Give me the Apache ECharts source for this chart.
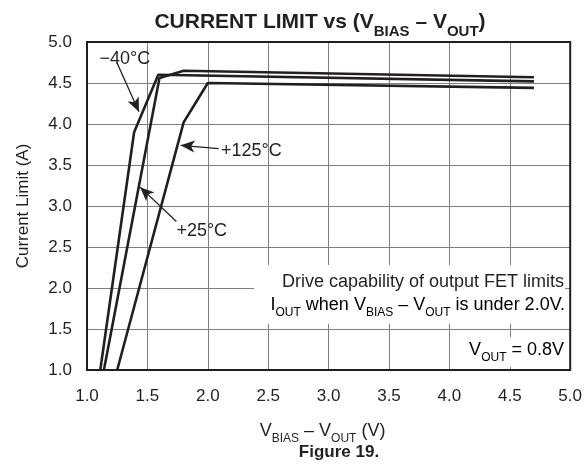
<!DOCTYPE html>
<html>
<head>
<meta charset="utf-8">
<script src="https://cdn.jsdelivr.net/npm/echarts@6/dist/echarts.min.js"></script>
<style>
html,body{margin:0;padding:0;background:#fff;}
#c{width:585px;height:466px;}
</style>
</head>
<body>
<div id="c"></div>
<script>
// ---- data ----
const xTicks = [1.0, 1.5, 2.0, 2.5, 3.0, 3.5, 4.0, 4.5, 5.0];
const yTicks = [1.0, 1.5, 2.0, 2.5, 3.0, 3.5, 4.0, 4.5, 5.0];
const seriesNames = ['−40°C', '+25°C', '+125°C'];
const vM40  = [1.11, 1.39, 1.59, 4.70];
const iM40  = [1.00, 3.90, 4.60, 4.52];
const v25   = [1.14, 1.60, 1.80, 4.70];
const i25   = [1.00, 4.56, 4.65, 4.57];
const v125  = [1.25, 1.80, 2.00, 4.70];
const i125  = [1.00, 4.02, 4.50, 4.44];

const FONT = "'Liberation Sans', Arial, Helvetica, sans-serif";
const INK = '#231f20';
const pairs = (xs, ys) => xs.map((x, i) => [x, ys[i]]);

const chart = echarts.init(document.getElementById('c'));
const sub = { fontSize: 12, fontFamily: FONT, color: INK, verticalAlign: 'bottom', padding: [0,0,-5,0] };
const norm = { fontSize: 18, fontFamily: FONT, color: INK };

function arrow(from, to) {
  return [{ coord: from, symbol: 'none' }, { coord: to, symbol: 'arrow', symbolSize: [9, 14] }];
}
function tag(name, at) {
  return { symbol: 'circle', symbolSize: 0,
    label: { show: true, position: 'inside', formatter: name, fontSize: 18, fontFamily: FONT, color: INK },
    data: [{ coord: at }] };
}
const arrowStyle = { silent: true, animation: false, lineStyle: { color: INK, width: 1.3, type: 'solid' }, label: { show: false } };

const lineStyle = { color: INK, width: 2.6 };
const option = {
  animation: false,
  backgroundColor: '#fff',
  title: [
    {
      text: '{t|CURRENT LIMIT vs (V}{s|BIAS}{t| – V}{s|OUT}{t|)}',
      left: 315, top: 7, textAlign: 'center',
      textStyle: {
        rich: {
          t: { fontSize: 21, fontWeight: 'bold', fontFamily: FONT, color: INK },
          s: { fontSize: 15, fontWeight: 'bold', fontFamily: FONT, color: INK, verticalAlign: 'bottom', padding: [0,0,-6,0] }
        }
      }
    },
    {
      text: 'Figure 19.',
      left: 334, top: 439, textAlign: 'center',
      textStyle: { fontSize: 17, fontWeight: 'bold', fontFamily: FONT, color: INK }
    }
  ],
  grid: { left: 87, right: 12, top: 42, bottom: 96, show: true, borderColor: INK, borderWidth: 2, z: 3 },
  xAxis: {
    type: 'value', min: xTicks[0], max: xTicks[xTicks.length - 1], interval: 0.5,
    axisLine: { show: false }, axisTick: { show: false },
    splitLine: { show: true, lineStyle: { color: '#7f7f7f', width: 1 } },
    axisLabel: { margin: 18, fontSize: 17, fontFamily: FONT, color: INK, formatter: v => v.toFixed(1) },
    name: '{n|V}{s|BIAS}{n| – V}{s|OUT}{n| (V)}', nameLocation: 'middle', nameGap: 52,
    nameTextStyle: { padding: [0, 12, 0, 0], rich: { n: norm, s: sub } }
  },
  yAxis: {
    type: 'value', min: yTicks[0], max: yTicks[yTicks.length - 1], interval: 0.5,
    axisLine: { show: false }, axisTick: { show: false },
    splitLine: { show: true, lineStyle: { color: '#7f7f7f', width: 1 } },
    axisLabel: { margin: 15, fontSize: 17, fontFamily: FONT, color: INK, formatter: v => v.toFixed(1) },
    name: 'Current Limit (A)', nameLocation: 'middle', nameGap: 55,
    nameTextStyle: { fontSize: 17, fontFamily: FONT, color: INK }
  },
  graphic: [
    { type: 'rect', shape: { x: 254, y: 265, width: 311, height: 59 }, style: { fill: '#fff' }, z: 2 },
    { type: 'rect', shape: { x: 456, y: 337, width: 110, height: 30 }, style: { fill: '#fff' }, z: 2 },
    { type: 'text', z: 10, x: 564, y: 282, style: { text: 'Drive capability of output FET limits', align: 'right', verticalAlign: 'middle', font: '18px ' + FONT, fill: INK } },
    { type: 'text', z: 10, x: 565, y: 305, style: {
        text: '{n|I}{s|OUT}{n| when V}{s|BIAS}{n| – V}{s|OUT}{n| is under 2.0V.}', align: 'right', verticalAlign: 'middle',
        rich: { n: norm, s: sub } } },
    { type: 'text', z: 10, x: 564, y: 350, style: {
        text: '{n|V}{s|OUT}{n| = 0.8V}', align: 'right', verticalAlign: 'middle',
        rich: { n: norm, s: sub } } }
  ],
  series: [
    { name: seriesNames[0], type: 'line', data: pairs(vM40, iM40), showSymbol: false, lineStyle, z: 5,
      markLine: Object.assign({ data: [arrow([1.25, 4.74], [1.43, 4.15])] }, arrowStyle),
      markPoint: tag(seriesNames[0], [1.313, 4.79])
    },
    { name: seriesNames[1], type: 'line', data: pairs(v25, i25), showSymbol: false, lineStyle, z: 5,
      markLine: Object.assign({ data: [arrow([1.74, 2.81], [1.44, 3.23])] }, arrowStyle),
      markPoint: tag(seriesNames[1], [1.95, 2.695])
    },
    { name: seriesNames[2], type: 'line', data: pairs(v125, i125), showSymbol: false, lineStyle, z: 5,
      markLine: Object.assign({ data: [arrow([2.09, 3.70], [1.775, 3.74])] }, arrowStyle),
      markPoint: tag(seriesNames[2], [2.36, 3.665])
    }
  ]
};
chart.setOption(option);
</script>
</body>
</html>
